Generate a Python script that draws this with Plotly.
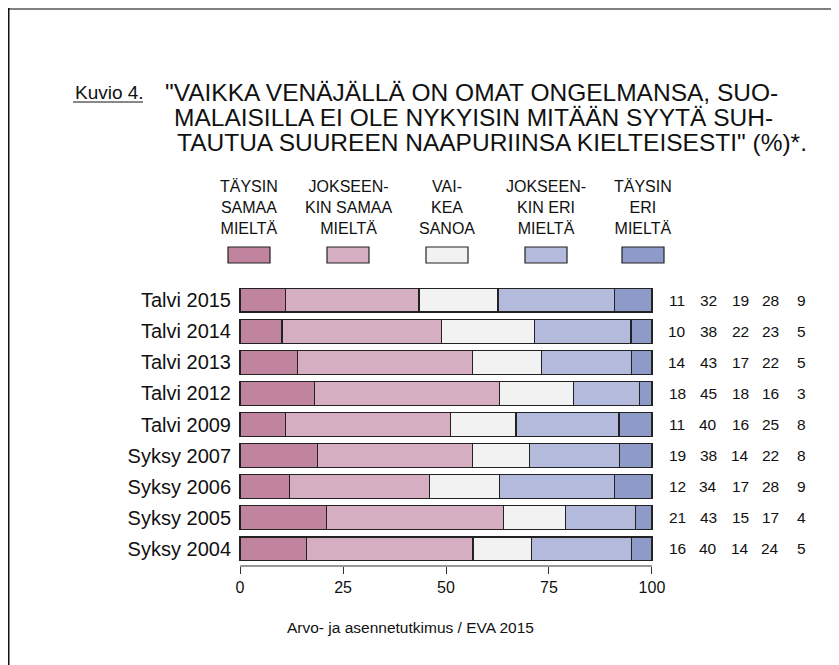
import plotly.graph_objects as go

# ---------------- data ----------------
categories = ["Talvi 2015", "Talvi 2014", "Talvi 2013", "Talvi 2012", "Talvi 2009",
              "Syksy 2007", "Syksy 2006", "Syksy 2005", "Syksy 2004"]
series_labels = ["TÄYSIN<br>SAMAA<br>MIELTÄ",
                 "JOKSEEN-<br>KIN SAMAA<br>MIELTÄ",
                 "VAI-<br>KEA<br>SANOA",
                 "JOKSEEN-<br>KIN ERI<br>MIELTÄ",
                 "TÄYSIN<br>ERI<br>MIELTÄ"]
taysin_samaa = [11, 10, 14, 18, 11, 19, 12, 21, 16]
jokseenkin_samaa = [32, 38, 43, 45, 40, 38, 34, 43, 40]
vaikea_sanoa = [19, 22, 17, 18, 16, 14, 17, 15, 14]
jokseenkin_eri = [28, 23, 22, 16, 25, 22, 28, 17, 24]
taysin_eri = [9, 5, 5, 3, 8, 8, 9, 4, 5]
x_ticks = [0, 25, 50, 75, 100]

series = [taysin_samaa, jokseenkin_samaa, vaikea_sanoa, jokseenkin_eri, taysin_eri]
colors = ["#C0849F", "#D6AEC1", "#F2F2F2", "#B3BADC", "#8E9AC8"]

FONT = "Liberation Sans, Arial, Helvetica, sans-serif"
W, H = 839, 665
OFF = 8  # page body margin
L, R, T, B = 230, 193, 275, 107
PW, PH = W - L - R, H - T - B


def px(x):
    # screen x -> paper
    return (x - OFF - L) / PW


def py(y):
    # screen y -> paper
    return (H - B - (y - OFF)) / PH


totals = [sum(v) for v in zip(*series)]

fig = go.Figure()
for vals, col, name in zip(series, colors, series_labels):
    fig.add_trace(go.Bar(
        y=categories,
        x=[v / t * 100 for v, t in zip(vals, totals)],
        orientation="h",
        marker=dict(color=col, line=dict(color="#222222", width=1.2)),
        name=name,
        hoverinfo="skip",
        showlegend=False,
    ))

annotations = []
shapes = []

# right-side value columns
col_px = [677, 708, 740, 770, 801]
for vals, cx in zip(series, col_px):
    for cat, v in zip(categories, vals):
        annotations.append(dict(
            x=px(cx), xref="paper", y=cat, yref="y", text=str(v),
            showarrow=False, xanchor="center", yanchor="middle",
            font=dict(family=FONT, size=15.5, color="#111111")))

# custom legend
leg_cx = [249, 348, 447, 546, 643]
for lab, col, cx in zip(series_labels, colors, leg_cx):
    annotations.append(dict(
        x=px(cx), xref="paper", y=py(207), yref="paper", text=lab,
        showarrow=False, xanchor="center", yanchor="middle", align="center",
        font=dict(family=FONT, size=16, color="#111111")))
    shapes.append(dict(type="rect", xref="paper", yref="paper",
                       x0=px(cx - 21), x1=px(cx + 21), y0=py(263), y1=py(247),
                       fillcolor=col, line=dict(color="#222222", width=1.2)))

# title
annotations.append(dict(x=px(73), xref="paper", y=py(92), yref="paper",
                        text="Kuvio 4.", showarrow=False, xanchor="left", yanchor="middle",
                        font=dict(family=FONT, size=19, color="#111111")))
shapes.append(dict(type="line", xref="paper", yref="paper",
                   x0=px(73), x1=px(143), y0=py(102), y1=py(102),
                   line=dict(color="#111111", width=1)))
title_lines = ['"VAIKKA VENÄJÄLLÄ ON OMAT ONGELMANSA, SUO-',
               'MALAISILLA EI OLE NYKYISIN MITÄÄN SYYTÄ SUH-',
               'TAUTUA SUUREEN NAAPURIINSA KIELTEISESTI" (%)*.']
title_x = [163, 172, 175]
title_y = [92, 117, 142]
for t, tx, ty in zip(title_lines, title_x, title_y):
    annotations.append(dict(x=px(tx), xref="paper", y=py(ty), yref="paper",
                            text=t, showarrow=False, xanchor="left", yanchor="middle",
                            font=dict(family=FONT, size=24.5, color="#111111")))

# source
annotations.append(dict(x=px(410), xref="paper", y=py(627), yref="paper",
                        text="Arvo- ja asennetutkimus / EVA 2015", showarrow=False,
                        xanchor="center", yanchor="middle",
                        font=dict(family=FONT, size=15.5, color="#111111")))

# x axis line (0..100)
shapes.append(dict(type="line", xref="x", yref="paper", x0=0, x1=100, y0=0, y1=0,
                   line=dict(color="#333333", width=1.2)))

# figure frame
shapes.append(dict(type="line", xref="paper", yref="paper",
                   x0=px(8), x1=px(8 + W), y0=py(9), y1=py(9),
                   line=dict(color="#808080", width=2)))
shapes.append(dict(type="line", xref="paper", yref="paper",
                   x0=px(8.75), x1=px(8.75), y0=py(8), y1=py(8 + H),
                   line=dict(color="#111111", width=1.5)))

fig.update_layout(
    width=W, height=H,
    margin=dict(l=L, r=R, t=T, b=B, autoexpand=False),
    barmode="stack",
    bargap=0.23,
    plot_bgcolor="white", paper_bgcolor="white",
    annotations=annotations,
    shapes=shapes,
    showlegend=False,
    xaxis=dict(range=[-0.5, 100.5], tickvals=x_ticks, ticktext=[str(t) for t in x_ticks],
               ticks="outside", ticklen=7, tickwidth=1.2, tickcolor="#333333",
               showline=False, showgrid=False, zeroline=False,
               tickfont=dict(family=FONT, size=16, color="#111111"), fixedrange=True),
    yaxis=dict(categoryorder="array", categoryarray=categories, range=[8.55, -0.55],
               showline=False, showgrid=False, zeroline=False, ticks="",
               ticklabelstandoff=6,
               tickfont=dict(family=FONT, size=20, color="#111111"), fixedrange=True),
)

fig.write_html("out.html")
